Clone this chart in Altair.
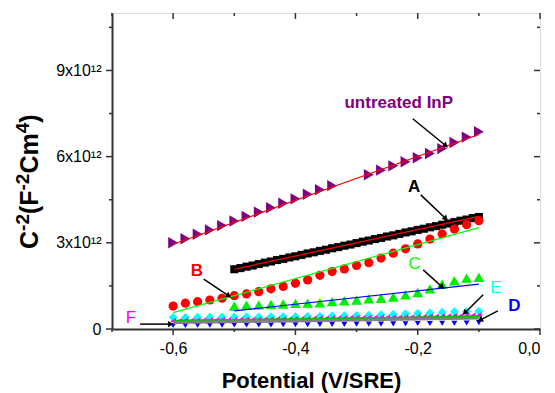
import math
import altair as alt
import pandas as pd

# ---------------- data (y in units of 10^12 F^-2 cm^4) ----------------
P02 = [-0.60, -0.58, -0.56, -0.54, -0.52, -0.50, -0.48, -0.46, -0.44, -0.42,
       -0.40, -0.38, -0.36, -0.34, -0.32, -0.30, -0.28, -0.26, -0.24, -0.22,
       -0.20, -0.18, -0.16, -0.14, -0.12, -0.10]

untreated_x = [-0.60, -0.58, -0.56, -0.54, -0.52, -0.50, -0.48, -0.46, -0.44, -0.42,
               -0.40, -0.38, -0.36, -0.34, -0.28, -0.26, -0.24, -0.22, -0.20, -0.18,
               -0.16, -0.14, -0.12, -0.10]
untreated_y = [3.00, 3.14, 3.30, 3.45, 3.60, 3.76, 3.92, 4.07, 4.22, 4.38,
               4.53, 4.69, 4.85, 4.99, 5.37, 5.53, 5.68, 5.82, 5.96, 6.11,
               6.28, 6.49, 6.68, 6.87]

A_x = [-0.50, -0.49, -0.48, -0.47, -0.46, -0.45, -0.44, -0.43, -0.42, -0.41,
       -0.40, -0.39, -0.38, -0.37, -0.36, -0.35, -0.34, -0.33, -0.32, -0.31,
       -0.30, -0.29, -0.28, -0.27, -0.26, -0.25, -0.24, -0.23, -0.22, -0.21,
       -0.20, -0.19, -0.18, -0.17, -0.16, -0.15, -0.14, -0.13, -0.12, -0.11, -0.10]
A_y = [2.08, 2.12, 2.17, 2.21, 2.26, 2.31, 2.35, 2.40, 2.44, 2.49,
       2.53, 2.58, 2.63, 2.67, 2.72, 2.76, 2.81, 2.85, 2.90, 2.94,
       2.99, 3.04, 3.08, 3.13, 3.17, 3.22, 3.26, 3.31, 3.36, 3.40,
       3.45, 3.49, 3.54, 3.58, 3.63, 3.67, 3.72, 3.77, 3.81, 3.86, 3.90]

B_y = [0.80, 0.90, 0.95, 1.01, 1.07, 1.16, 1.22, 1.30, 1.40, 1.48,
       1.59, 1.71, 1.87, 2.00, 2.09, 2.21, 2.31, 2.47, 2.64, 2.79,
       2.96, 3.13, 3.31, 3.48, 3.63, 3.77]

C_x = [-0.50, -0.48, -0.46, -0.44, -0.42, -0.40, -0.38, -0.36, -0.34, -0.32,
       -0.30, -0.28, -0.26, -0.24, -0.22, -0.20, -0.18, -0.16, -0.14, -0.12, -0.10]
C_y = [0.80, 0.83, 0.84, 0.86, 0.87, 0.89, 0.90, 0.91, 0.95, 0.98,
       1.01, 1.05, 1.07, 1.11, 1.19, 1.27, 1.40, 1.56, 1.68, 1.77, 1.80]

D_y = [0.12, 0.12, 0.13, 0.13, 0.13, 0.14, 0.14, 0.14, 0.14, 0.15,
       0.15, 0.15, 0.16, 0.16, 0.16, 0.17, 0.17, 0.17, 0.18, 0.18,
       0.19, 0.19, 0.20, 0.20, 0.21, 0.22]

E_y = [0.40, 0.40, 0.41, 0.41, 0.41, 0.42, 0.42, 0.42, 0.43, 0.43,
       0.43, 0.44, 0.44, 0.45, 0.46, 0.47, 0.48, 0.50, 0.51, 0.53,
       0.55, 0.56, 0.58, 0.60, 0.61, 0.62]

F_x = [-0.60, -0.59, -0.58, -0.57, -0.56, -0.55, -0.54, -0.53, -0.52, -0.51,
       -0.50, -0.49, -0.48, -0.47, -0.46, -0.45, -0.44, -0.43, -0.42, -0.41,
       -0.40, -0.39, -0.38, -0.37, -0.36, -0.35, -0.34, -0.33, -0.32, -0.31,
       -0.30, -0.29, -0.28, -0.27, -0.26, -0.25, -0.24, -0.23, -0.22, -0.21,
       -0.20, -0.19, -0.18, -0.17, -0.16, -0.15, -0.14, -0.13, -0.12, -0.11, -0.10]
F_y = [0.27, 0.27, 0.28, 0.28, 0.28, 0.29, 0.29, 0.29, 0.30, 0.30,
       0.30, 0.31, 0.31, 0.31, 0.32, 0.32, 0.32, 0.33, 0.33, 0.33,
       0.34, 0.34, 0.34, 0.35, 0.35, 0.35, 0.36, 0.36, 0.36, 0.37,
       0.37, 0.37, 0.38, 0.38, 0.38, 0.39, 0.39, 0.39, 0.40, 0.40,
       0.41, 0.41, 0.42, 0.42, 0.43, 0.43, 0.44, 0.44, 0.45, 0.46, 0.47]

# linear fit lines (end points)
fit_names = ["fit_untreated", "fit_A", "fit_B", "fit_C", "fit_gray", "fit_low"]
fit_x0 = [-0.60, -0.50, -0.60, -0.50, -0.60, -0.60]
fit_x1 = [-0.10, -0.10, -0.10, -0.10, -0.10, -0.10]
fit_y0 = [2.95, 2.08, 0.57, 0.63, 0.24, 0.30]
fit_y1 = [6.77, 3.92, 3.53, 1.56, 0.40, 0.44]
fit_colors = ["#ff0000", "#ff0000", "#00ff00", "#0000ff", "#808080", "#00c000"]
fit_widths = [1.2, 1.2, 1.2, 1.2, 4, 1.2]

# labels
lab_text = ["untreated InP", "A", "B", "C", "E", "D", "F"]
lab_x = [-0.231, -0.206, -0.561, -0.205, -0.072, -0.042, -0.669]
lab_y = [7.85, 4.94, 2.02, 2.25, 1.43, 0.80, 0.38]
lab_color = ["#800080", "#000000", "#ff0000", "#00ff00", "#00ffff", "#0000ff", "#ff00ff"]
lab_bold = [True, True, True, False, False, True, False]
lab_size = [17, 17, 17, 17, 17, 17, 17]

# arrows (start -> end)
arr_x0 = [-0.208, -0.195, -0.550, -0.191, -0.093, -0.069, -0.654]
arr_y0 = [7.32, 4.67, 1.74, 2.06, 1.19, 0.63, 0.17]
arr_x1 = [-0.154, -0.154, -0.509, -0.160, -0.123, -0.098, -0.604]
arr_y1 = [6.38, 3.84, 1.15, 1.46, 0.56, 0.31, 0.17]

X_MAJ = [-0.6, -0.4, -0.2, 0.0]
X_MIN = [-0.7, -0.5, -0.3, -0.1]
Y_MAJ = [0, 3, 6, 9]
Y_MIN = [1.5, 4.5, 7.5, 10.5]
X_DOMAIN = [-0.7, 0.0]
Y_DOMAIN = [0, 11]

# y-axis title pieces: (text, superscript?)
ytitle_parts = [("C", False), ("-2", True), ("(F", False), ("-2", True),
                ("Cm", False), ("4", True), (")", False)]

# ---------------- layout ----------------
W, H = 428, 316
FONT = "Liberation Sans"
AXC = "#333333"

xs = alt.Scale(domain=X_DOMAIN, nice=False, zero=False)
ys = alt.Scale(domain=Y_DOMAIN, nice=False, zero=False)

x_axis = alt.Axis(
    values=X_MAJ, ticks=False, grid=False, domainColor=AXC, domainWidth=2,
    labelExpr="(datum.value < 0 ? '-' : '') + replace(format(abs(datum.value), '.1f'), '.', ',')",
    labelFont=FONT, labelFontSize=16, labelColor="#000", labelPadding=11,
    title="Potential (V/SRE)", titleFont=FONT, titleFontSize=22, titleFontWeight="bold",
    titleColor="#000", titleX=199, titleY=58, titleBaseline="alphabetic", titleAlign="center",
)
y_axis = alt.Axis(
    values=Y_MAJ, ticks=False, grid=False, domainColor=AXC, domainWidth=2,
    labelExpr="datum.value == 0 ? '0' : datum.value + 'x10¹²'",
    labelFont=FONT, labelFontSize=16, labelColor="#000", labelPadding=11,
    title="",
)

def X(field="V"):
    return alt.X(f"{field}:Q", scale=xs, axis=x_axis)

def Y(field="C"):
    return alt.Y(f"{field}:Q", scale=ys, axis=y_axis)

def series(xv, yv, shape, color, size):
    df = pd.DataFrame({"V": xv, "C": yv})
    return alt.Chart(df).mark_point(shape=shape, filled=True, color=color, size=size, opacity=1).encode(
        x=X(), y=Y()
    )

layers = []
layers.append(series(untreated_x, untreated_y, "triangle-right", "#800080", 130))
layers.append(series(A_x, A_y, "square", "#000000", 65))
layers.append(series(P02, B_y, "circle", "#ff0000", 85))
layers.append(series(C_x, C_y, "triangle-up", "#00ee00", 115))
layers.append(series(P02, E_y, "diamond", "#00ffff", 80))
layers.append(series(P02, D_y, "triangle-down", "#0000ff", 35))
layers.append(series(F_x, F_y, "triangle-left", "#ff00ff", 45))

for i, n in enumerate(fit_names):
    df = pd.DataFrame({"V": [fit_x0[i], fit_x1[i]], "C": [fit_y0[i], fit_y1[i]]})
    layers.append(alt.Chart(df).mark_line(color=fit_colors[i], strokeWidth=fit_widths[i]).encode(
        x=X(), y=Y()))

# arrows
arr_df = pd.DataFrame({"x0": arr_x0, "y0": arr_y0, "x1": arr_x1, "y1": arr_y1})
px_x = W / (X_DOMAIN[1] - X_DOMAIN[0])
px_y = H / (Y_DOMAIN[1] - Y_DOMAIN[0])
angles = []
for a, b, c, d in zip(arr_x0, arr_y0, arr_x1, arr_y1):
    dx = (c - a) * px_x
    dy = -(d - b) * px_y
    angles.append(math.degrees(math.atan2(dx, -dy)) % 360)
arr_df["ang"] = angles
layers.append(alt.Chart(arr_df).mark_rule(color="#000", strokeWidth=1.5).encode(
    x=X("x0"), y=Y("y0"), x2="x1:Q", y2="y1:Q"))
layers.append(alt.Chart(arr_df).mark_point(shape="triangle-up", filled=True, color="#000", size=40, opacity=1).encode(
    x=X("x1"), y=Y("y1"), angle=alt.Angle("ang:Q", scale=None)))

# labels
lab_df = pd.DataFrame({"t": lab_text, "x": lab_x, "y": lab_y, "c": lab_color,
                       "b": lab_bold, "s": lab_size})
for bold in (True, False):
    layers.append(alt.Chart(lab_df[lab_df["b"] == bold]).mark_text(
        font=FONT, fontWeight="bold" if bold else "normal", align="center", baseline="middle"
    ).encode(x=X("x"), y=Y("y"), text="t:N", color=alt.Color("c:N", scale=None),
             size=alt.Size("s:Q", scale=None)))

# y-axis title built from pieces so superscripts can be drawn (rotated 270)
BOLD_W = {"C": 0.722, "-": 0.333, "2": 0.556, "(": 0.333, "F": 0.611,
          "m": 0.889, "4": 0.556, ")": 0.333}
MAIN_FS, SUP_FS = 25, 19
pos = H - 80          # start (bottom) of the rotated title, in plot pixels
rows = []
for txt, sup in ytitle_parts:
    fs = SUP_FS if sup else MAIN_FS
    rows.append({"t": txt, "px": -74 if not sup else -83, "py": pos, "s": fs})
    pos -= sum(BOLD_W[ch] for ch in txt) * fs
yt_df = pd.DataFrame(rows)
layers.append(alt.Chart(yt_df).mark_text(
    font=FONT, fontWeight="bold", angle=270, align="left", baseline="alphabetic", color="#000"
).encode(x=alt.X("px:Q", scale=None, axis=None), y=alt.Y("py:Q", scale=None, axis=None),
         text="t:N", size=alt.Size("s:Q", scale=None)))

# tick marks (outward on bottom/left, inward on top/right)
def xticks(vals, length):
    df = pd.DataFrame({"V": vals})
    bottom = alt.Chart(df).mark_rule(color=AXC, strokeWidth=1.5).encode(
        x=X(), y=alt.value(H), y2=alt.value(H + length))
    top = alt.Chart(df).mark_rule(color=AXC, strokeWidth=1.5).encode(
        x=X(), y=alt.value(0), y2=alt.value(length))
    return [bottom, top]

def yticks(vals, length):
    df = pd.DataFrame({"C": vals})
    left = alt.Chart(df).mark_rule(color=AXC, strokeWidth=1.5).encode(
        y=Y(), x=alt.value(0), x2=alt.value(-length))
    right = alt.Chart(df).mark_rule(color=AXC, strokeWidth=1.5).encode(
        y=Y(), x=alt.value(W), x2=alt.value(W - length))
    return [left, right]

layers += xticks(X_MAJ, 6) + xticks(X_MIN, 3) + yticks(Y_MAJ, 6) + yticks(Y_MIN, 3)

chart = alt.layer(*layers).properties(
    width=W, height=H,
    autosize=alt.AutoSizeParams(type="none"),
    padding={"left": 104, "top": 5, "right": 7, "bottom": 64},
).configure_view(stroke=AXC, strokeWidth=1.5).configure(background="white")

chart.save("out.html", embed_options={"renderer": "svg", "actions": False})
